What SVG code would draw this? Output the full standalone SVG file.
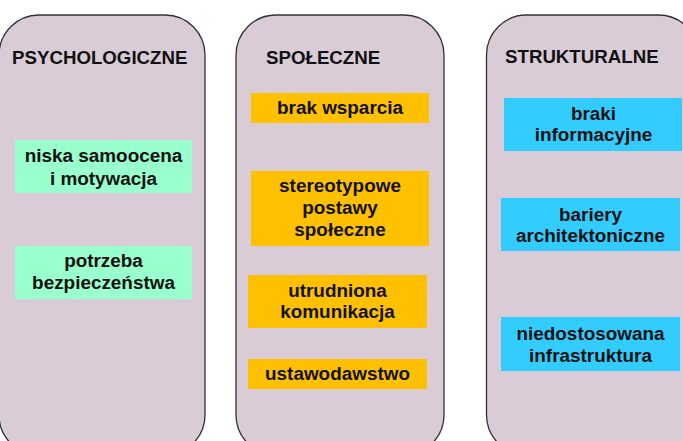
<svg xmlns="http://www.w3.org/2000/svg" width="683" height="441" viewBox="0 0 683 441">
<style>
.col{fill:#d9ccd6;stroke:#333;stroke-width:1.3}
.t{font-family:"Liberation Sans",Arial,sans-serif;font-weight:bold;font-size:18.9px;fill:#111;text-anchor:middle}
.h{font-family:"Liberation Sans",Arial,sans-serif;font-weight:bold;font-size:18.7px;fill:#111}
.g{fill:#99ffcc}
.o{fill:#ffc000}
.b{fill:#33ccff}
</style>
<rect width="683" height="441" fill="#fff"/>
<g id="col-psych">
<rect class="col" x="-1" y="15" width="206" height="440" rx="40"/>
<text class="h" x="12" y="64">PSYCHOLOGICZNE</text>
</g>
<g id="col-spol">
<rect class="col" x="236" y="15" width="208" height="440" rx="40"/>
<text class="h" x="266" y="64">SPOŁECZNE</text>
</g>
<g id="col-strukt">
<rect class="col" x="486.5" y="15" width="212" height="440" rx="40"/>
<text class="h" x="505" y="63">STRUKTURALNE</text>
</g>
<g id="n-samoocena">
<rect class="g" x="15" y="140" width="177" height="53"/>
<text class="t" x="103.5" y="162">niska samoocena</text>
<text class="t" x="103.5" y="185">i motywacja</text>
</g>
<g id="n-bezpieczenstwo">
<rect class="g" x="15" y="246" width="177" height="53"/>
<text class="t" x="103.5" y="267">potrzeba</text>
<text class="t" x="103.5" y="289">bezpieczeństwa</text>
</g>
<g id="n-wsparcie">
<rect class="o" x="251" y="93" width="178" height="30"/>
<text class="t" x="340" y="114">brak wsparcia</text>
</g>
<g id="n-stereotypy">
<rect class="o" x="251" y="171" width="178" height="75"/>
<text class="t" x="340" y="192">stereotypowe</text>
<text class="t" x="340" y="214">postawy</text>
<text class="t" x="340" y="236">społeczne</text>
</g>
<g id="n-komunikacja">
<rect class="o" x="248" y="275" width="179" height="53"/>
<text class="t" x="337.5" y="297">utrudniona</text>
<text class="t" x="337.5" y="318">komunikacja</text>
</g>
<g id="n-ustawodawstwo">
<rect class="o" x="248" y="359" width="179" height="30"/>
<text class="t" x="337.5" y="380">ustawodawstwo</text>
</g>
<g id="n-informacje">
<rect class="b" x="504" y="98" width="178" height="53"/>
<text class="t" x="593.5" y="120">braki</text>
<text class="t" x="593.5" y="141">informacyjne</text>
</g>
<g id="n-bariery">
<rect class="b" x="501" y="198" width="179" height="53"/>
<text class="t" x="590.5" y="221">bariery</text>
<text class="t" x="590.5" y="242">architektoniczne</text>
</g>
<g id="n-infrastruktura">
<rect class="b" x="501" y="317" width="179" height="54"/>
<text class="t" x="590.5" y="340">niedostosowana</text>
<text class="t" x="590.5" y="362">infrastruktura</text>
</g>
<g id="connectors"></g>
</svg>
